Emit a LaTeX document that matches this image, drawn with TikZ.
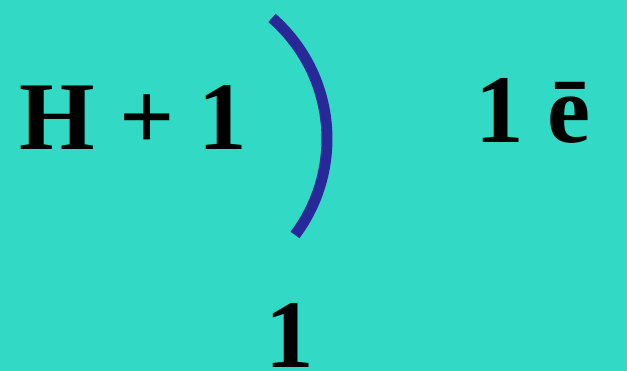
\documentclass[tikz,border=0pt]{standalone}
\usepackage{fontspec}
\setmainfont{Liberation Serif}
\definecolor{bgteal}{RGB}{50,217,196}
\definecolor{arcblue}{RGB}{40,40,152}
\begin{document}
\begin{tikzpicture}[x=1pt,y=-1pt,
  bigtxt/.style={inner sep=0pt,anchor=base,font=\fontsize{97}{100}\selectfont\bfseries,text=black},
  shell/.style={draw=arcblue,line width=11pt}]
\fill[bgteal] (0,0) rectangle (627,371);
\useasboundingbox (0,0) rectangle (627,371);
\node[bigtxt] (lhs) at (133.5,150) {H + 1};
\node[bigtxt] (elec) at (533,143) {1 ē};
\node[bigtxt,text depth=0pt] (bot) at (289.5,368) {1};
\coordinate (arcstart) at (272,18);
\draw[shell] (arcstart) arc[start angle=-48.9, end angle=36.8, radius=160.4];
\end{tikzpicture}
\end{document}
